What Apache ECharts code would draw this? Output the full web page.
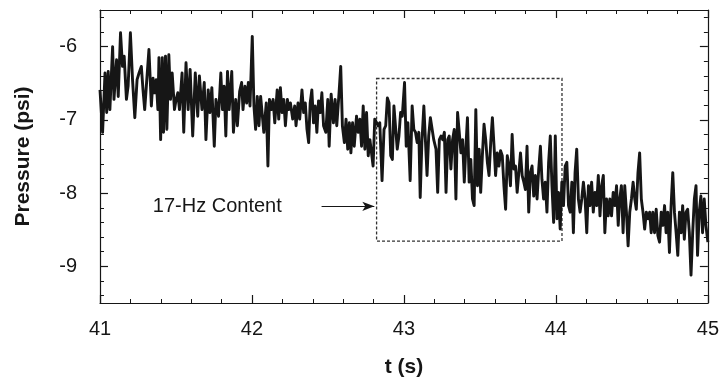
<!DOCTYPE html>
<html>
<head>
<meta charset="utf-8">
<script src="https://cdn.jsdelivr.net/npm/echarts@6/dist/echarts.min.js"></script>
<style>
html,body{margin:0;padding:0;background:#fff;}
#chart{width:722px;height:383px;}
</style>
</head>
<body>
<div id="chart"></div>
<script>
// ---- data ----
const times = [
41.000,41.017,41.033,41.044,41.054,41.065,41.083,41.092,41.109,41.120,41.135,41.148,41.159,41.174,41.185,41.200,41.214,41.229,41.244,41.257,
41.272,41.283,41.294,41.305,41.322,41.338,41.349,41.359,41.370,41.381,41.388,41.399,41.410,41.418,41.431,41.440,41.453,41.464,41.475,41.490,
41.501,41.512,41.523,41.540,41.551,41.566,41.580,41.593,41.610,41.627,41.643,41.654,41.671,41.686,41.697,41.712,41.723,41.736,41.752,41.763,
41.780,41.795,41.806,41.817,41.828,41.839,41.850,41.867,41.878,41.893,41.904,41.919,41.932,41.941,41.954,41.965,41.976,41.987,42.002,42.013,
42.024,42.035,42.046,42.057,42.068,42.078,42.094,42.105,42.115,42.129,42.139,42.150,42.166,42.176,42.187,42.198,42.209,42.220,42.233,42.242,
42.253,42.268,42.281,42.290,42.303,42.314,42.329,42.340,42.351,42.362,42.373,42.383,42.394,42.405,42.416,42.427,42.438,42.449,42.460,42.471,
42.486,42.499,42.508,42.521,42.536,42.547,42.558,42.573,42.584,42.595,42.608,42.619,42.630,42.641,42.651,42.662,42.673,42.688,42.699,42.710,
42.721,42.732,42.743,42.754,42.765,42.776,
42.797,42.808,42.830,42.841,42.856,42.869,42.880,42.891,42.902,42.913,42.924,42.934,42.945,42.956,42.967,42.978,42.989,43.004,43.015,43.026,
43.041,43.054,43.065,43.076,43.087,43.098,43.107,43.118,43.131,43.139,43.152,43.163,43.174,43.185,43.196,43.211,43.222,
43.233,43.244,43.255,43.266,43.277,43.288,43.298,43.309,43.320,43.331,43.342,43.353,43.364,43.375,43.386,43.397,43.407,43.418,43.429,43.440,
43.451,43.462,43.473,43.484,43.495,43.505,43.516,43.527,43.538,43.549,43.560,43.571,43.582,43.593,43.603,43.614,43.625,43.636,43.647,43.658,
43.669,43.680,43.691,43.701,43.712,43.723,43.734,43.745,43.756,43.767,43.778,43.789,43.799,43.810,43.821,43.832,43.843,43.854,43.865,43.876,
43.887,43.898,43.908,43.919,43.930,43.941,43.952,43.963,43.974,43.985,43.996,44.007,44.017,44.028,44.039,44.050,44.061,44.072,44.083,44.094,
44.105,44.115,44.126,44.137,44.148,44.159,44.170,44.181,44.192,44.203,44.214,44.224,44.235,44.246,44.257,44.268,44.279,44.290,44.301,44.312,
44.322,44.333,44.344,44.355,44.366,44.377,44.388,44.399,44.410,44.420,44.431,44.442,44.453,44.464,44.475,44.486,44.497,44.508,44.519,44.529,
44.540,44.551,44.562,44.573,44.584,44.595,44.606,44.617,44.627,44.638,44.649,44.660,44.671,44.682,44.693,44.704,44.715,44.725,44.736,44.747,
44.758,44.769,44.780,44.791,44.802,44.813,44.824,44.834,44.845,44.856,44.867,44.878,44.889,44.900,44.911,44.922,44.932,44.943,44.954,44.965,
44.976,44.987,45.000
];
const pressure = [
-6.59,-7.17,-6.36,-6.90,-6.34,-6.86,-6.00,-6.72,-6.18,-6.68,-5.81,-6.27,-6.13,-6.72,-6.54,-5.81,-6.45,-6.97,-6.45,-6.36,
-6.27,-6.59,-6.86,-6.54,-6.04,-6.81,-6.43,-6.63,-6.45,-6.86,-6.15,-7.27,-6.15,-7.17,-6.13,-7.13,-6.11,-6.72,-6.36,-6.86,
-6.72,-6.63,-6.86,-6.36,-7.17,-6.22,-6.86,-6.31,-7.22,-6.36,-6.95,-6.40,-6.86,-6.49,-7.27,-6.59,-6.90,-6.56,-7.36,-6.72,
-6.95,-6.36,-6.86,-6.54,-7.22,-6.34,-6.86,-6.34,-7.17,-6.72,-7.08,-6.61,-6.49,-6.86,-6.54,-6.77,-6.49,-6.81,-5.86,-6.81,
-7.13,-6.68,-7.08,-6.68,-6.68,-7.17,-6.77,-7.63,-6.72,-6.86,-6.72,-7.04,-6.59,-6.99,-6.56,-6.90,-6.72,-7.08,-6.72,-6.86,
-6.77,-6.99,-6.81,-7.08,-6.77,-6.99,-6.59,-6.90,-6.77,-7.13,-7.31,-6.77,-6.59,-7.04,-6.81,-7.17,-6.74,-6.90,-6.63,-7.08,
-7.17,-6.72,-7.36,-6.65,-7.04,-6.72,-7.08,-6.63,-6.27,-7.08,-7.31,-6.99,-7.40,-7.04,-7.45,-7.04,-7.36,-6.95,-7.17,-6.99,
-7.36,-6.81,-7.40,-6.90,-7.49,-7.27,
-7.63,-6.99,-7.08,-7.04,-7.83,-7.13,-7.08,-6.70,-6.77,-7.49,-7.54,-6.81,-6.79,-7.40,-7.22,-6.90,-6.95,-6.49,-7.36,-7.04,
-7.83,-6.81,-7.13,-7.17,-7.31,-7.17,-8.06,-7.31,-6.81,-7.17,-7.76,-7.22,-6.97,-6.99,-7.27,-7.40,-7.99,
-7.27,-7.22,-7.27,-7.17,-7.99,-7.27,-7.22,-7.67,-7.27,-7.13,-8.08,-6.90,-7.17,-7.45,-7.27,-7.85,-7.40,-6.97,-7.85,-7.54,
-8.08,-8.17,-6.86,-7.90,-7.40,-7.99,-7.49,-7.06,-7.27,-7.58,-7.76,-7.31,-6.97,-7.36,-7.76,-7.45,-7.63,-7.42,-7.49,-7.90,
-8.22,-7.49,-7.63,-7.90,-7.20,-7.67,-7.63,-7.99,-7.72,-7.45,-7.76,-7.85,-7.95,-7.36,-8.26,-7.72,-7.63,-8.04,-7.76,-8.08,
-7.67,-7.36,-7.81,-8.08,-7.85,-8.26,-7.58,-7.22,-7.90,-8.40,-7.22,-8.35,-7.99,-8.49,-7.85,-8.17,-7.63,-7.58,-8.17,-8.26,
-7.85,-8.54,-7.72,-7.40,-8.08,-8.26,-8.08,-7.85,-8.08,-8.54,-7.90,-8.17,-7.85,-8.26,-7.99,-8.17,-7.76,-8.31,-7.90,-7.76,
-8.54,-8.08,-8.31,-8.08,-8.31,-7.99,-8.17,-7.90,-8.44,-8.08,-7.90,-8.54,-7.90,-8.26,-8.72,-8.26,-8.08,-7.85,-8.08,-8.22,
-7.72,-7.45,-8.08,-8.26,-8.49,-8.26,-8.35,-8.26,-8.54,-8.26,-8.54,-8.22,-8.58,-8.67,-8.26,-8.44,-8.17,-8.54,-8.26,-8.81,
-8.17,-7.72,-8.26,-8.54,-8.85,-8.26,-8.54,-8.17,-8.63,-8.26,-8.22,-8.54,-9.12,-8.54,-8.08,-7.90,-8.85,-8.26,-8.04,-8.54,
-8.08,-8.44,-8.67
];
const xTickLabels = [41, 42, 43, 44, 45];
const yTickLabels = [-9, -8, -7, -6];
const yMinorTicks = [-9.4,-9.2,-8.8,-8.6,-8.4,-8.2,-7.8,-7.6,-7.4,-7.2,-6.8,-6.6,-6.4,-6.2,-5.8,-5.6];
const xRange = [41, 45];
const yRange = [-9.5, -5.5];
// annotation (box around the 17-Hz content, arrow and text)
const boxT = [42.82, 44.04];
const boxP = [-6.435, -8.655];
const arrowT = [42.458, 42.805];
const arrowP = -8.18;
const noteText = '17-Hz Content';
const noteT = 42.196;

// ---- chart ----
const ink = '#161616';
const FONT = "'Liberation Sans', Arial, sans-serif";
const data = times.map((t, i) => [t, pressure[i]]);

function xAx(pos, labels) {
  return {
    type: 'value', position: pos, min: xRange[0], max: xRange[1], interval: 1,
    axisLine: { show: true, onZero: false, lineStyle: { color: ink, width: 1.2 } },
    axisTick: { show: true, inside: true, length: 8, lineStyle: { color: ink, width: 1.2 } },
    minorTick: { show: true, splitNumber: 5, length: 4, lineStyle: { color: ink, width: 1 } },
    axisLabel: labels ? { show: true, fontSize: 20, fontFamily: FONT, color: ink, margin: 16,
      customValues: xTickLabels } : { show: false },
    splitLine: { show: false },
    ...(labels ? { name: 't (s)', nameLocation: 'middle', nameGap: 54,
      nameTextStyle: { fontSize: 21, fontWeight: 'bold', fontFamily: FONT, color: ink } } : {})
  };
}
function yAx(pos, labels, ticks, len, line) {
  return {
    type: 'value', position: pos, min: yRange[0], max: yRange[1],
    axisLine: { show: line, onZero: false, lineStyle: { color: ink, width: 1.2 } },
    axisTick: { show: true, inside: true, length: len, customValues: ticks,
      lineStyle: { color: ink, width: len > 5 ? 1.2 : 1 } },
    axisLabel: labels ? { show: true, fontSize: 20, fontFamily: FONT, color: ink, margin: 23,
      customValues: yTickLabels } : { show: false, customValues: ticks },
    splitLine: { show: false },
    ...(labels ? { name: 'Pressure (psi)', nameLocation: 'middle', nameGap: 66,
      nameTextStyle: { fontSize: 21, fontWeight: 'bold', fontFamily: FONT, color: ink } } : {})
  };
}

const chart = echarts.init(document.getElementById('chart'), null, { renderer: 'canvas' });
chart.setOption({
  animation: false,
  backgroundColor: '#fff',
  textStyle: { fontFamily: FONT },
  grid: { left: 100, right: 10, top: 10, bottom: 79, containLabel: false },
  xAxis: [xAx('bottom', true), xAx('top', false)],
  yAxis: [
    yAx('left', true, yTickLabels, 8, true),
    yAx('left', false, yMinorTicks, 4, false),
    yAx('right', false, yTickLabels, 8, true),
    yAx('right', false, yMinorTicks, 4, false)
  ],
  series: [{
    type: 'line', xAxisIndex: 0, yAxisIndex: 0, data: data,
    showSymbol: false, symbol: 'none',
    lineStyle: { color: ink, width: 2.9, join: 'round' },
    z: 3,
    markArea: {
      silent: true,
      itemStyle: { color: 'rgba(0,0,0,0)', borderColor: '#333', borderWidth: 1.3, borderType: [3, 2] },
      data: [[{ coord: [boxT[0], boxP[0]] }, { coord: [boxT[1], boxP[1]] }]]
    },
    markLine: {
      silent: true, symbol: ['none', 'arrow'], symbolSize: [7, 12],
      lineStyle: { color: ink, width: 1.2, type: 'solid' },
      label: { show: false },
      data: [[{ coord: [arrowT[0], arrowP] }, { coord: [arrowT[1], arrowP] }]]
    },
    markPoint: {
      silent: true,
      data: [{ coord: [noteT, arrowP], symbol: 'circle', symbolSize: 0,
        label: { show: true, position: 'left', distance: 0, formatter: noteText,
          fontSize: 20, fontFamily: FONT, color: ink } }]
    }
  }]
});
</script>
</body>
</html>
